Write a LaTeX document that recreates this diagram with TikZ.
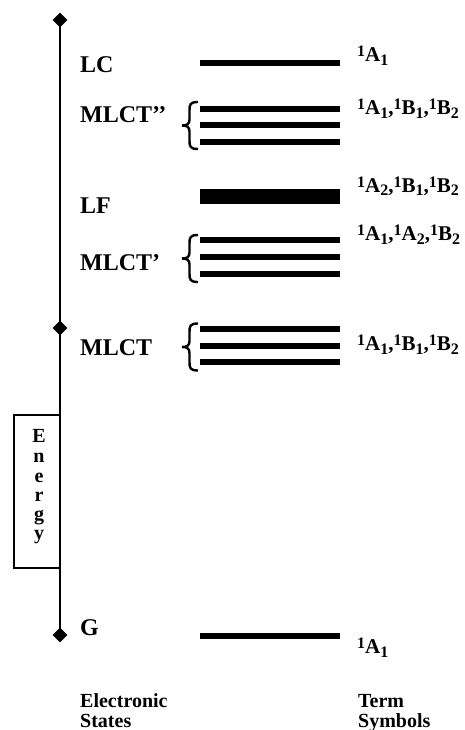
\documentclass[tikz,border=0pt]{standalone}
\usepackage{fontspec}
\setmainfont{Liberation Serif}
\usetikzlibrary{shapes.geometric}
\newcommand\tsym[2]{\raisebox{5pt}{\fontsize{16}{16}\selectfont 1}#1\raisebox{-4pt}{\fontsize{16}{16}\selectfont #2}}
\begin{document}
\begin{tikzpicture}[x=1pt,y=-1pt,
  lvl/.style={line width=6pt},
  axisline/.style={line width=2.5pt},
  diam/.style={diamond,fill=black,inner sep=0pt,minimum size=15pt},
  state/.style={anchor=base west,inner sep=0pt,font=\fontsize{24}{24}\selectfont\bfseries},
  term/.style={anchor=base west,inner sep=0pt,font=\fontsize{21}{21}\selectfont\bfseries},
  foot/.style={anchor=base west,inner sep=0pt,font=\fontsize{20}{20}\selectfont\bfseries},
  eletter/.style={anchor=base,inner sep=0pt,font=\fontsize{20}{20}\selectfont\bfseries},
  cbrace/.pic={\draw[line width=2.4pt] (0,-23.5) .. controls (-8,-23.5) and (-8.5,-21) .. (-8.5,-15) -- (-8.5,-6) .. controls (-8.5,-1.5) and (-11,0) .. (-16,0) .. controls (-11,0) and (-8.5,1.5) .. (-8.5,6) -- (-8.5,15) .. controls (-8.5,21) and (-8,23.5) .. (0,23.5);}]
\useasboundingbox (0,0) rectangle (465,730);
\clip (0,0) rectangle (465,730);
% energy box
\node[draw,line width=1.5pt,fill=white,minimum width=46pt,minimum height=153pt,inner sep=0pt] (ebox) at (37,491.5) {};
\foreach \l/\y [count=\i] in {E/442,n/462,e/482,r/501,g/520,y/539}
  \node[eletter] (el\i) at (39,\y) {\l};
% axis
\coordinate (top) at (60,20);
\coordinate (mid) at (60,328);
\coordinate (bot) at (60,635);
\draw[axisline] (top) -- (bot);
\node[diam] (dtop) at (top) {};
\node[diam] (dmid) at (mid) {};
\node[diam] (dbot) at (bot) {};
% levels
\draw[lvl] (200,63.5) -- (340,63.5);
\draw[lvl] (200,109) -- (340,109);
\draw[lvl] (200,125.5) -- (340,125.5);
\draw[lvl] (200,142) -- (340,142);
\fill (200,189) rectangle (340,204);
\draw[lvl] (200,240) -- (340,240);
\draw[lvl] (200,257) -- (340,257);
\draw[lvl] (200,274) -- (340,274);
\draw[lvl] (200,329) -- (340,329);
\draw[lvl] (200,345.5) -- (340,345.5);
\draw[lvl] (200,361.5) -- (340,361.5);
\draw[lvl] (200,636) -- (340,636);
% braces
\pic (b1) at (198,125.5) {cbrace};
\pic (b2) at (198,258.5) {cbrace};
\pic (b3) at (198,347) {cbrace};
% state labels
\node[state] (lc) at (80,73) {LC};
\node[state] (mlctpp) at (80,123) {MLCT’’};
\node[state] (lf) at (80,213) {LF};
\node[state] (mlctp) at (80,270) {MLCT’};
\node[state] (mlct) at (80,355) {MLCT};
\node[state] (g) at (80,635) {G};
% term symbols
\node[term] (t1) at (357,62) {\tsym{A}{1}};
\node[term] (t2) at (357,115) {\tsym{A}{1},\tsym{B}{1},\tsym{B}{2}};
\node[term] (t3) at (357,192) {\tsym{A}{2},\tsym{B}{1},\tsym{B}{2}};
\node[term] (t4) at (357,240) {\tsym{A}{1},\tsym{A}{2},\tsym{B}{2}};
\node[term] (t5) at (357,350) {\tsym{A}{1},\tsym{B}{1},\tsym{B}{2}};
\node[term] (t6) at (357,653) {\tsym{A}{1}};
% footers
\node[foot] (es1) at (80,707) {Electronic};
\node[foot] (es2) at (80,727) {States};
\node[foot] (ts1) at (358,707) {Term};
\node[foot] (ts2) at (358,727) {Symbols};
\end{tikzpicture}
\end{document}
